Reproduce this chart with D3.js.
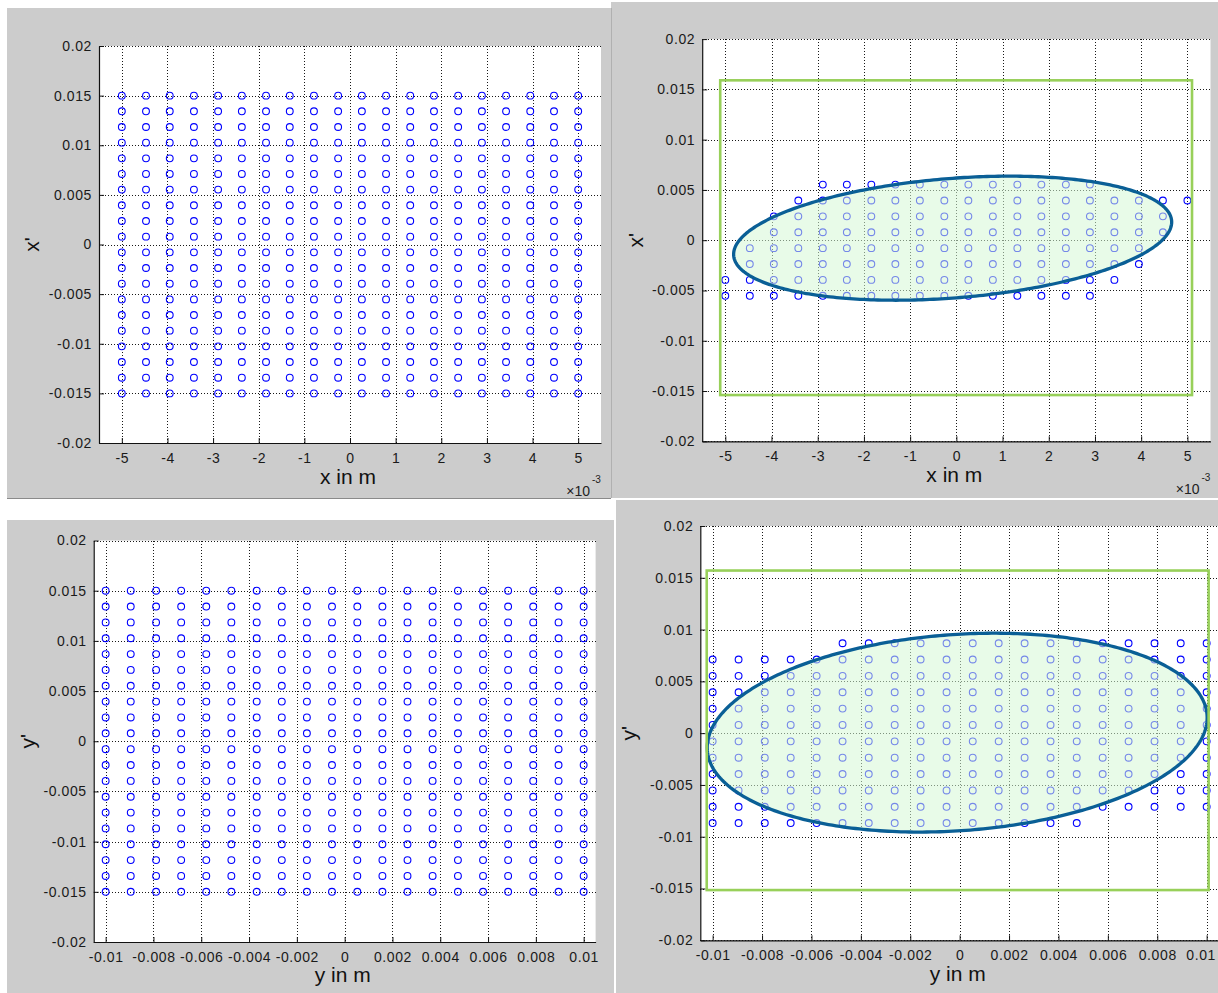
<!DOCTYPE html>
<html><head><meta charset="utf-8">
<script src="https://cdn.jsdelivr.net/npm/d3@7"></script>
<style>
html,body{margin:0;padding:0;background:#fff;}
svg{display:block;}
text{font-family:"Liberation Sans",Arial,sans-serif;}
</style></head><body>
<svg id="chart" width="1218" height="993"></svg>
<script>
// ---------------- DATA ----------------
// initial grid of particles (20 x 20)
const xGrid = [-0.005,-0.00447,-0.00395,-0.00342,-0.00289,-0.00237,-0.00184,-0.00132,-0.00079,-0.00026,
                0.00026,0.00079,0.00132,0.00184,0.00237,0.00289,0.00342,0.00395,0.00447,0.005];
const yGrid = [-0.01,-0.00895,-0.00789,-0.00684,-0.00579,-0.00474,-0.00368,-0.00263,-0.00158,-0.00053,
                0.00053,0.00158,0.00263,0.00368,0.00474,0.00579,0.00684,0.00789,0.00895,0.01];
const angleGrid = [-0.015,-0.01342,-0.01184,-0.01026,-0.00868,-0.00711,-0.00553,-0.00395,-0.00237,-0.00079,
                    0.00079,0.00237,0.00395,0.00553,0.00711,0.00868,0.01026,0.01184,0.01342,0.015];

// tick values / labels
const xTicks = [-0.005,-0.004,-0.003,-0.002,-0.001,0,0.001,0.002,0.003,0.004,0.005];
const xTickLabels = ["-5","-4","-3","-2","-1","0","1","2","3","4","5"];
const yTicks = [-0.01,-0.008,-0.006,-0.004,-0.002,0,0.002,0.004,0.006,0.008,0.01];
const yTickLabels = ["-0.01","-0.008","-0.006","-0.004","-0.002","0","0.002","0.004","0.006","0.008","0.01"];
const angleTicks = [-0.02,-0.015,-0.01,-0.005,0,0.005,0.01,0.015,0.02];
const angleTickLabels = ["-0.02","-0.015","-0.01","-0.005","0","0.005","0.01","0.015","0.02"];

// accepted particles, horizontal plane: row angle, first & last column index of xGrid
const xAccRowAngle = [0.00553,0.00395,0.00237,0.00079,-0.00079,-0.00237,-0.00395,-0.00553];
const xAccFirst    = [4,3,2,2,1,1,0,0];
const xAccLast     = [15,19,18,18,17,17,16,15];
// accepted particles, vertical plane
const yAccRowAngle = [0.00868,0.00711,0.00553,0.00395,0.00237,0.00079,-0.00079,-0.00237,-0.00395,-0.00553,-0.00711,-0.00868];
const yAccFirst    = [5,0,0,0,0,0,0,0,0,0,0,0];
const yAccLast     = [19,19,19,19,19,19,19,19,19,19,19,14];

// acceptance ellipses: centre, max position, max angle, cos(phase)
const xEllipseParams = [-0.00008, 0.0002, 0.00474, 0.00617, 0.26];
const yEllipseParams = [-0.0001, 0.00005, 0.01012, 0.0096, 0.15];
// aperture boxes: [xmin, xmax, angle min, angle max]
const xBox = [-0.00511, 0.0051, -0.0154, 0.0159];
const yBox = [-0.01024, 0.01008, -0.01515, 0.0157];

// ---------------- DRAW ----------------
const svg = d3.select("#chart");

// panel backgrounds
const panels = [
  {x:7,   y:8,   w:604, h:490},
  {x:611, y:2,   w:607, h:496},
  {x:7,   y:520, w:607, h:473},
  {x:616, y:500, w:602, h:493}
];
panels.forEach(p => {
  svg.append("rect").attr("x",p.x).attr("y",p.y).attr("width",p.w).attr("height",p.h)
    .attr("fill","#cccccc");
});
svg.append("line").attr("x1",7).attr("x2",611).attr("y1",498.5).attr("y2",498.5).attr("stroke","#8a8a8a");
svg.append("line").attr("x1",611.5).attr("x2",611.5).attr("y1",8).attr("y2",498).attr("stroke","#b0b0b0");

function drawPanel(cfg){
  const g = svg.append("g");
  const x = d3.scaleLinear().domain(cfg.xDomain).range(cfg.xRange);
  const y = d3.scaleLinear().domain([-0.02,0.02]).range(cfg.yRange);
  const left = cfg.xRange[0], right = Math.min(cfg.xRange[1], 1218);
  const top = cfg.yRange[1], bottom = cfg.yRange[0];

  g.append("rect").attr("x",left).attr("y",top).attr("width",right-left).attr("height",bottom-top).attr("fill","#fff");

  // grid
  const grid = g.append("g").attr("stroke","#000").attr("stroke-width",1)
      .attr("stroke-dasharray","1,2").attr("shape-rendering","crispEdges").attr("opacity",0.9);
  cfg.xTicks.forEach(v => {
    const px = Math.round(x(v)) + 0.5;
    grid.append("line").attr("x1",px).attr("x2",px).attr("y1",top).attr("y2",bottom);
  });
  angleTicks.forEach(v => {
    const py = Math.round(y(v)) + 0.5;
    grid.append("line").attr("x1",left).attr("x2",right).attr("y1",py).attr("y2",py);
  });

  // particles
  const pts = [];
  if (cfg.rows) {
    cfg.rows.forEach((a,i) => {
      for (let k = cfg.first[i]; k <= cfg.last[i]; k++) pts.push([cfg.cols[k], a]);
    });
  } else {
    cfg.cols.forEach(c => angleGrid.forEach(a => pts.push([c,a])));
  }
  g.append("g").selectAll("circle").data(pts).join("circle")
    .attr("cx",d=>x(d[0])).attr("cy",d=>y(d[1])).attr("r",3.4)
    .attr("fill","none").attr("stroke","#0000ff").attr("stroke-width",1.1);

  // ellipse
  if (cfg.ellipse) {
    const [cx,cy,A,B,cphi] = cfg.ellipse;
    const phi = Math.acos(cphi);
    const ts = d3.range(0,361).map(d => d*Math.PI/180);
    const line = d3.line().x(t => x(cx + A*Math.cos(t))).y(t => y(cy + B*Math.cos(t-phi)));
    g.append("path").attr("d",line(ts)+"Z").attr("fill","rgb(214,247,214)").attr("fill-opacity",0.55)
      .attr("stroke","#0a5f96").attr("stroke-width",3.3);
  }
  // aperture box
  if (cfg.box) {
    const b = cfg.box;
    g.append("rect").attr("x",x(b[0])).attr("y",y(b[3])).attr("width",x(b[1])-x(b[0])).attr("height",y(b[2])-y(b[3]))
      .attr("fill","none").attr("stroke","#98d05a").attr("stroke-width",2.6);
  }

  // axes
  const ax = g.append("g").attr("transform",`translate(0,${bottom})`)
    .call(d3.axisBottom(x).tickValues(cfg.xTicks).tickFormat((d,i)=>cfg.xLabels[i]).tickSizeInner(-5).tickSizeOuter(0).tickPadding(10));
  const ay = g.append("g").attr("transform",`translate(${left},0)`)
    .call(d3.axisLeft(y).tickValues(angleTicks).tickFormat((d,i)=>angleTickLabels[i]).tickSizeInner(-5).tickSizeOuter(0).tickPadding(7));
  [ax,ay].forEach(a => {
    a.attr("font-family",null).attr("font-size",null);
    a.select(".domain").attr("stroke","#111").attr("stroke-width",1.2);
    a.selectAll(".tick line").attr("stroke","#111");
    a.selectAll(".tick text").attr("fill","#1a1a1a").style("font-size","14px").style("letter-spacing","0.6px");
  });
  // keep the last x tick label inside the picture
  ax.selectAll(".tick text").each(function(){
    const bb = this.getBBox();
    const tr = this.parentNode.getAttribute("transform");
    const tx = +tr.match(/translate\(([-\d.]+)/)[1];
    if (tx + bb.x + bb.width > 1216) {
      d3.select(this).attr("text-anchor","end").attr("x", 1216 - tx);
    }
  });

  // axis labels
  g.append("text").attr("x",(cfg.xRange[0]+cfg.xRange[1])/2 - 2).attr("y",bottom + cfg.xLabelDy)
    .attr("text-anchor","middle").style("font-size","21px").attr("fill","#111").text(cfg.xTitle);
  g.append("text").attr("transform",`translate(${cfg.yLabelX},${(top+bottom)/2}) rotate(-90)`)
    .attr("text-anchor","middle").style("font-size","21px").attr("fill","#111").text(cfg.yTitle);

  if (cfg.exponent) {
    const ex = right - 11;
    g.append("text").attr("x",ex).attr("y",bottom+53).attr("text-anchor","end")
      .style("font-size","14px").attr("fill","#222").text("×10");
    g.append("text").attr("x",ex+2).attr("y",bottom+40)
      .style("font-size","10px").attr("fill","#222").text("-3");
  }
}

drawPanel({xDomain:[-0.0055,0.0055], xRange:[99,601], yRange:[443,46],
  xTicks:xTicks, xLabels:xTickLabels, cols:xGrid,
  xTitle:"x in m", yTitle:"x'", xLabelDy:41, yLabelX:39, exponent:true});

drawPanel({xDomain:[-0.0055,0.0055], xRange:[702.2,1210.5], yRange:[441.3,39.1],
  xTicks:xTicks, xLabels:xTickLabels, cols:xGrid,
  rows:xAccRowAngle, first:xAccFirst, last:xAccLast,
  ellipse:xEllipseParams, box:xBox,
  xTitle:"x in m", yTitle:"x'", xLabelDy:41, yLabelX:643, exponent:true});

drawPanel({xDomain:[-0.0105,0.0105], xRange:[93.7,595.6], yRange:[942,540.5],
  xTicks:yTicks, xLabels:yTickLabels, cols:yGrid,
  xTitle:"y in m", yTitle:"y'", xLabelDy:40, yLabelX:35});

drawPanel({xDomain:[-0.0105,0.0105], xRange:[700.3,1219], yRange:[940.3,526],
  xTicks:yTicks, xLabels:yTickLabels, cols:yGrid,
  rows:yAccRowAngle, first:yAccFirst, last:yAccLast,
  ellipse:yEllipseParams, box:yBox,
  xTitle:"y in m", yTitle:"y'", xLabelDy:41, yLabelX:636});
</script>
</body></html>
